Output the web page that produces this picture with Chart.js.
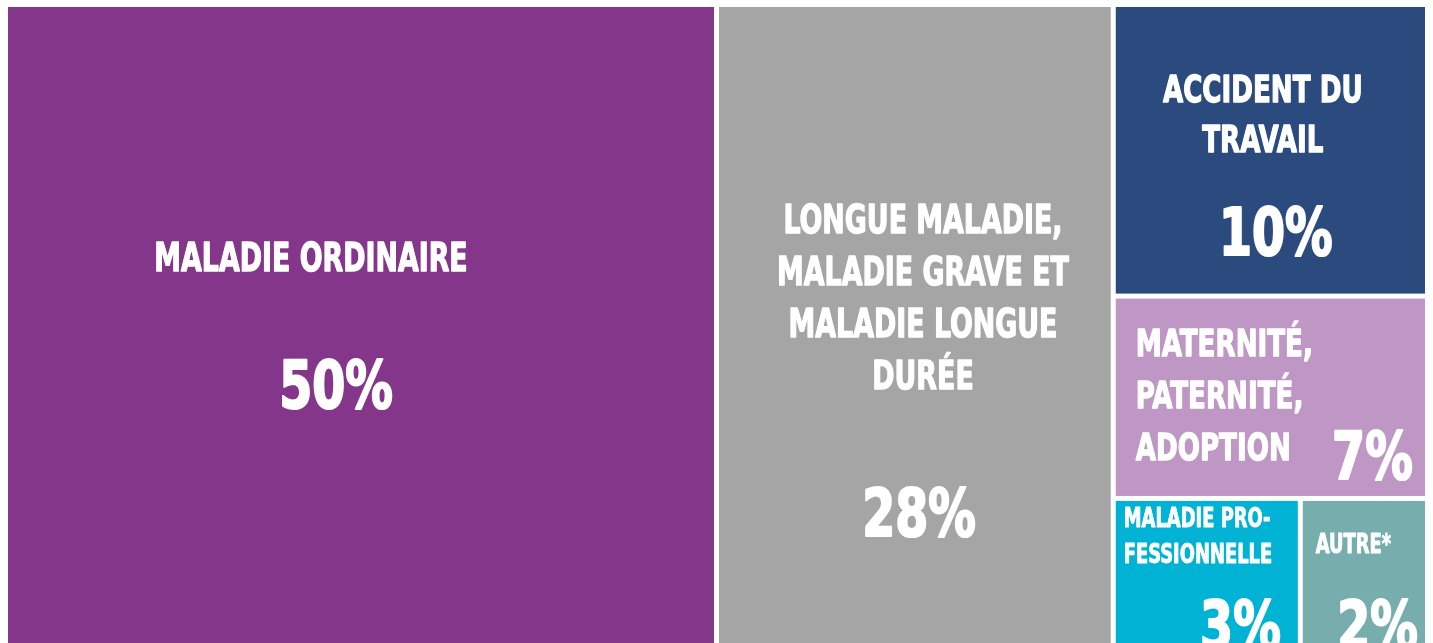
<!DOCTYPE html>
<html>
<head>
<meta charset="utf-8">
<script src="https://cdn.jsdelivr.net/npm/chart.js@4/dist/chart.umd.min.js"></script>
<style>
  html, body { margin: 0; padding: 0; background: #ffffff; }
  #wrap { width: 1433px; height: 643px; position: relative; }
</style>
</head>
<body>
<div id="wrap"><canvas id="treemap-chart"></canvas></div>
<script>
// data
var categories = [
  ["MALADIE ORDINAIRE"],
  ["LONGUE MALADIE,", "MALADIE GRAVE ET", "MALADIE LONGUE", "DURÉE"],
  ["ACCIDENT DU", "TRAVAIL"],
  ["MATERNITÉ,", "PATERNITÉ,", "ADOPTION"],
  ["MALADIE PRO-", "FESSIONNELLE"],
  ["AUTRE*"]
];
var shares = [50, 28, 10, 7, 3, 2];
var valueLabels = ["50%", "28%", "10%", "7%", "3%", "2%"];

// styles
var colors = ["#84368a", "#a5a5a5", "#2b4a7d", "#bf97c5", "#00b2d4", "#78adad"];
// per tile label placement, px from tile top-left
var labelStyle = [
  { align: "center", tx: 303, ty: 236, size: 39, lh: 52, px: 328, py: 353 },
  { align: "center", tx: 204, ty: 198, size: 39, lh: 52, px: 200, py: 481 },
  { align: "center", tx: 147, ty: 68,  size: 38, lh: 50, px: 160, py: 200 },
  { align: "left",   tx: 20,  ty: 30,  size: 38, lh: 52, px: 297, py: 133 },
  { align: "left",   tx: 8,   ty: 7,   size: 26, lh: 36, px: 165, py: 100 },
  { align: "left",   tx: 13,  ty: 33,  size: 26, lh: 36, px: 115, py: 100 }
];
var FONT = '"DejaVu Sans Condensed", "Liberation Sans Narrow", sans-serif';
var titleStretch = 0.765, pctStretch = 0.8, pctSize = 66;
var gap = 2.5;

function sum(a){ var s = 0; for (var i = 0; i < a.length; i++) s += a[i].v; return s; }
function worst(row, side, s){
  var total = sum(row) * s, mx = 0, mn = Infinity;
  row.forEach(function(it){ var a = it.v * s; if (a > mx) mx = a; if (a < mn) mn = a; });
  return Math.max(side * side * mx / (total * total), total * total / (side * side * mn));
}
// squarified layout in value units, kx/ky = px per unit
function squarify(values, rect, kx, ky){
  var out = [];
  var items = values.map(function(v, i){ return { v: v, i: i }; });
  var r = { x: rect.x, y: rect.y, w: rect.w, h: rect.h };
  var s = (r.w * kx * r.h * ky) / sum(items);
  while (items.length){
    var W = r.w * kx, H = r.h * ky, side = Math.min(W, H);
    var row = [items[0]], k = 1;
    while (k < items.length){
      var cand = items.slice(0, k + 1);
      if (worst(cand, side, s) <= worst(row, side, s)) { row = cand; k++; } else break;
    }
    var thick = sum(row) * s / side;
    if (W >= H){
      var tw = thick / kx, y = r.y;
      row.forEach(function(it){ var h = (it.v * s / thick) / ky; out[it.i] = { x: r.x, y: y, w: tw, h: h }; y += h; });
      r = { x: r.x + tw, y: r.y, w: r.w - tw, h: r.h };
    } else {
      var th = thick / ky, x = r.x;
      row.forEach(function(it){ var w = (it.v * s / thick) / kx; out[it.i] = { x: x, y: r.y, w: w, h: th }; x += w; });
      r = { x: r.x, y: r.y + th, w: r.w, h: r.h - th };
    }
    items = items.slice(row.length);
  }
  return out;
}

function drawText(ctx, txt, x, y, size, stretch, align){
  ctx.save();
  ctx.font = "bold " + size + "px " + FONT;
  ctx.textBaseline = "alphabetic";
  ctx.textAlign = align;
  ctx.translate(x, y);
  ctx.scale(stretch, 1);
  ctx.strokeStyle = "#ffffff";
  ctx.lineWidth = size / 30;
  ctx.lineJoin = "round";
  ctx.strokeText(txt, 0, 0);
  ctx.fillText(txt, 0, 0);
  ctx.restore();
}

var treemapPlugin = {
  id: "treemap",
  afterDatasetsDraw: function(chart){
    var ctx = chart.ctx, xs = chart.scales.x, ys = chart.scales.y, ca = chart.chartArea;
    var kx = ca.width / 100, ky = ca.height / 100;
    var rects = squarify(chart.data.datasets[0].data.map(function(d){ return d.v; }), { x: 0, y: 0, w: 100, h: 100 }, kx, ky);
    rects.forEach(function(r, i){
      var x0 = xs.getPixelForValue(r.x), x1 = xs.getPixelForValue(r.x + r.w);
      var y0 = ys.getPixelForValue(r.y), y1 = ys.getPixelForValue(r.y + r.h);
      if (r.x > 0.01) x0 += gap;
      if (r.x + r.w < 99.99) x1 -= gap;
      if (r.y > 0.01) y0 += gap;
      if (r.y + r.h < 99.99) y1 -= gap;
      ctx.save();
      ctx.fillStyle = colors[i];
      ctx.fillRect(x0, y0, x1 - x0, y1 - y0);
      ctx.beginPath();
      ctx.rect(x0, y0, x1 - x0, y1 - y0);
      ctx.clip();
      ctx.fillStyle = "#ffffff";
      var st = labelStyle[i];
      var cap = st.size * 0.72;
      var lines = chart.data.labels[i];
      for (var j = 0; j < lines.length; j++){
        drawText(ctx, lines[j], x0 + st.tx, y0 + st.ty + cap + j * st.lh, st.size, titleStretch, st.align);
      }
      var pAlign = st.align === "center" ? "center" : "right";
      drawText(ctx, valueLabels[i], x0 + st.px, y0 + st.py + pctSize * 0.72, pctSize, pctStretch, pAlign);
      ctx.restore();
    });
  }
};

var canvasElement = document.getElementById("treemap-chart");
var config = {
  type: "scatter",
  data: {
    labels: categories,
    datasets: [{
      label: "Part des jours d'absence",
      data: shares.map(function(v){ return { x: 0, y: 0, v: v }; }),
      pointRadius: 0,
      pointHoverRadius: 0
    }]
  },
  options: {
    responsive: true,
    maintainAspectRatio: false,
    animation: false,
    layout: { padding: { left: 8, right: 8, top: 7, bottom: 0 } },
    scales: {
      x: { type: "linear", min: 0, max: 100, display: false },
      y: { type: "linear", min: 0, max: 100, reverse: true, display: false }
    },
    plugins: { legend: { display: false }, tooltip: { enabled: false } }
  },
  plugins: [treemapPlugin]
};

var TreemapChart = new Chart(canvasElement, config);
</script>
</body>
</html>
